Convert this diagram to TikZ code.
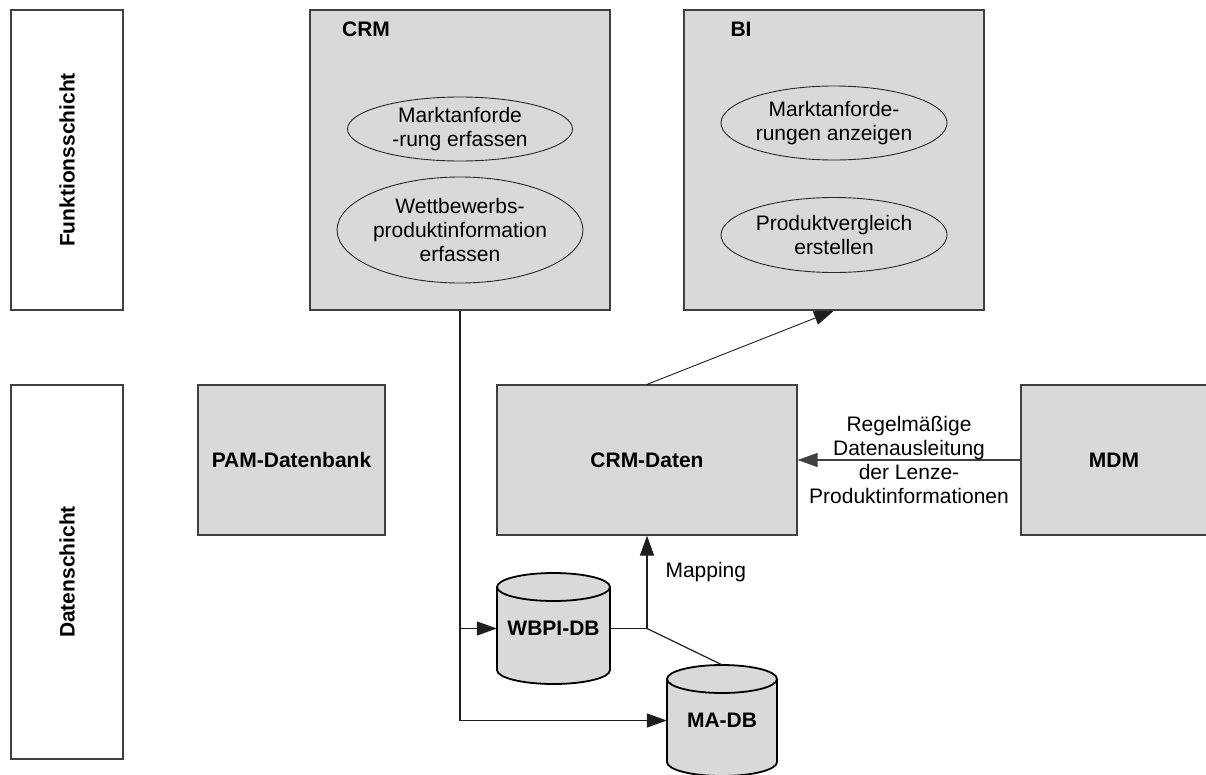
\documentclass[tikz,border=0pt]{standalone}
\usepackage{fontspec}
\setmainfont{Liberation Sans}
\usetikzlibrary{shapes.geometric,arrows.meta}
\definecolor{boxgray}{RGB}{217,217,217}
\definecolor{bordergray}{RGB}{64,64,64}
\definecolor{ellgray}{RGB}{40,40,40}
\definecolor{linegray}{RGB}{30,30,30}
\tikzset{
  box/.style={draw=bordergray, fill=boxgray, line width=1.2pt, inner sep=0pt},
  lbl/.style={font=\bfseries\fontsize{21}{24}\selectfont},
  txt/.style={font=\fontsize{21}{24}\selectfont, align=center},
  func/.style={ellipse, draw=ellgray, line width=0.9pt, inner sep=0pt, txt},
  conn/.style={draw=linegray, line width=1.2pt},
  arr/.style={conn, -{Triangle[length=20pt,width=14pt]}},
  cyl/.style={draw=black, line width=1.8pt},
}
\begin{document}
\begin{tikzpicture}[x=1pt,y=1pt]
\useasboundingbox (0,0) rectangle (1206,-774);
% layer labels
\node[draw=bordergray, line width=1.2pt, minimum width=112pt, minimum height=300pt, inner sep=0pt] (fs) at (67,-160) {};
\node[lbl, rotate=90] (fst) at (fs.center) {Funktionsschicht};
\node[draw=bordergray, line width=1.2pt, minimum width=112pt, minimum height=374pt, inner sep=0pt] (ds) at (67,-572) {};
\node[lbl, rotate=90] (dst) at (ds.center) {Datenschicht};
% function layer
\node[box, minimum width=300pt, minimum height=300pt] (crm) at (460,-160) {};
\node[lbl] (crmt) at (366,-29) {CRM};
\node[func, minimum width=225pt, minimum height=64pt] (e1) at (460,-129) {Marktanforde\\-rung erfassen};
\node[func, minimum width=225pt, minimum height=106pt] (e2) at (460,-230) {Wettbewerbs-\\produktinformation\\erfassen};
\node[box, minimum width=300pt, minimum height=300pt] (bi) at (834,-160) {};
\node[lbl] (bit) at (741,-29) {BI};
\node[func, minimum width=226pt, minimum height=74pt] (e3) at (834,-123) {Marktanforde-\\rungen anzeigen};
\node[func, minimum width=226pt, minimum height=75pt] (e4) at (834,-235) {Produktvergleich\\erstellen};
% data layer
\node[box, lbl, minimum width=187pt, minimum height=150pt] (pam) at (291.5,-460) {PAM-Datenbank};
\node[box, lbl, minimum width=300pt, minimum height=150pt] (crmd) at (647,-460) {CRM-Daten};
\node[box, lbl, minimum width=186pt, minimum height=150pt] (mdm) at (1114,-460) {MDM};
% cylinders
\fill[boxgray] (497,-587) rectangle (610,-670);
\fill[boxgray] (553.5,-670) ellipse [x radius=56.5, y radius=14];
\draw[cyl] (497,-587) -- (497,-670) arc[start angle=180, end angle=360, x radius=56.5, y radius=14] -- (610,-587);
\filldraw[cyl, fill=boxgray] (553.5,-587) ellipse [x radius=56.5, y radius=14];
\node[lbl, minimum width=113pt, minimum height=111pt, inner sep=0pt] (wbpi) at (553.5,-628.5) {WBPI-DB};
\fill[boxgray] (667,-679) rectangle (777,-762);
\fill[boxgray] (722,-762) ellipse [x radius=55, y radius=14];
\draw[cyl] (667,-679) -- (667,-762) arc[start angle=180, end angle=360, x radius=55, y radius=14] -- (777,-679);
\filldraw[cyl, fill=boxgray] (722,-679) ellipse [x radius=55, y radius=14];
\node[lbl, minimum width=110pt, minimum height=111pt, inner sep=0pt] (madb) at (722,-720.5) {MA-DB};
% connectors
\draw[arr] (crm.south) |- (madb.west);
\draw[arr] (crm.south |- wbpi.west) -- (wbpi.west);
\coordinate (j) at (crmd.south |- wbpi.east);
\draw[arr] (wbpi.east) -- (j) -- (crmd.south);
\draw[conn] (j) -- (madb.north);
\node[txt, anchor=west] (map) at (662,-572) {Mapping};
\draw[conn, line width=0.9pt, -{Triangle[length=20pt,width=14pt]}] (crmd.north) -- (bi.south);
\draw[arr, draw=bordergray] (mdm.west) -- (crmd.east);
\node[txt] (lab) at (909,-460) {Regelmäßige\\Datenausleitung\\der Lenze-\\Produktinformationen};
\end{tikzpicture}
\end{document}
